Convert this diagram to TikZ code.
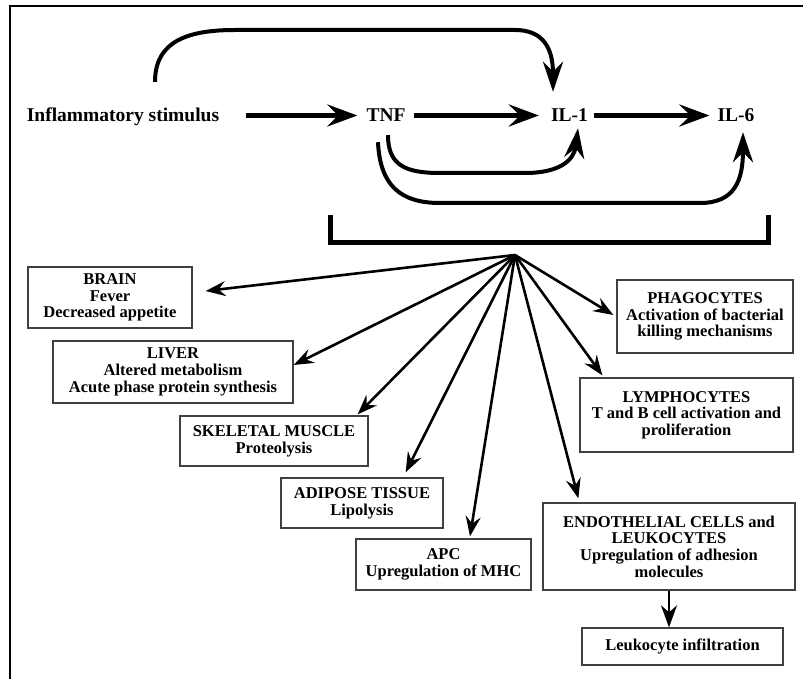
\documentclass[tikz,border=0pt]{standalone}
\usepackage{fontspec}
\setmainfont{Liberation Serif}
\usetikzlibrary{arrows.meta}

\begin{document}
\begin{tikzpicture}[x=1pt,y=-1pt,-]
    \tikzstyle{stage}=[font=\fontsize{19.5}{20}\selectfont\bfseries,inner sep=0pt,text height=13pt,text depth=0pt,anchor=base]
    \tikzstyle{organ}=[draw=black!75,line width=1.3pt,font=\fontsize{16.5}{16.7}\selectfont\bfseries,align=center,inner sep=0pt]
    \tikzstyle{bigarrow}=[line width=5pt,-{Stealth[length=30pt,width=22pt,inset=11pt]}]
    \tikzstyle{looparrow}=[line width=4pt,-{Stealth[length=30pt,width=20pt,inset=10pt]}]
    \tikzstyle{fanarrow}=[line width=2.6pt,-{Stealth[length=20pt,width=15pt,inset=7pt]}]

    \useasboundingbox (0,0) rectangle (803,679);
    \draw[line width=2pt] (10,679) -- (10,6) -- (803,6);

    \foreach \name/\x/\txt in {stim/123/Inflammatory stimulus, tnf/386/TNF, il1/569.5/IL-1, il6/736/IL-6}
        \node[stage] (\name) at (\x,122) {\txt};

    \draw[bigarrow,shorten <=27pt,shorten >=9pt] (stim.east) -- (tnf.west);
    \draw[bigarrow,shorten <=8pt,shorten >=12pt] (tnf.east) -- (il1.west);
    \draw[bigarrow,shorten <=6pt,shorten >=8pt] (il1.east) -- (il6.west);

    \draw[looparrow] ([xshift=32pt,yshift=27pt]stim.north) .. controls (155,40) and (190,30) .. (235,30)
        -- (515,30) .. controls (543,30) and (553,48) .. ([xshift=-16.5pt,yshift=17pt]il1.north);
    \draw[looparrow] ([xshift=2pt,yshift=-13pt]tnf.south) .. controls (388,165) and (405,173) .. (440,173)
        -- (525,173) .. controls (560,173) and (574,160) .. ([xshift=8.5pt,yshift=-6pt]il1.south);
    \draw[looparrow] ([xshift=-8pt,yshift=-20pt]tnf.south) .. controls (380,185) and (400,203) .. (440,203)
        -- (700,203) .. controls (735,203) and (743,180) .. ([xshift=7pt,yshift=-10pt]il6.south);

    \draw[line width=5pt] (330,215) -- (330,242) -- (768,242) -- (768,215);
    \coordinate (hub) at (515,255);

    \node[organ,minimum width=164pt,minimum height=61pt] (brain) at (110,297.5) {BRAIN\\Fever\\Decreased appetite};
    \node[organ,minimum width=240pt,minimum height=62pt] (liver) at (173,372) {LIVER\\Altered metabolism\\Acute phase protein synthesis};
    \node[organ,minimum width=188pt,minimum height=50pt] (muscle) at (274,441) {SKELETAL MUSCLE\\Proteolysis};
    \node[organ,minimum width=162pt,minimum height=50pt] (adipose) at (362,503) {ADIPOSE TISSUE\\Lipolysis};
    \node[organ,minimum width=175pt,minimum height=51pt] (apc) at (443.5,564.5) {APC\\Upregulation of MHC};
    \node[organ,minimum width=176pt,minimum height=73pt] (phago) at (705,316.5) {PHAGOCYTES\\Activation of bacterial\\killing mechanisms};
    \node[organ,minimum width=213pt,minimum height=74pt] (lympho) at (686.5,415) {LYMPHOCYTES\\T and B cell activation and\\proliferation};
    \node[organ,minimum width=252pt,minimum height=87pt] (endo) at (669,546.5) {ENDOTHELIAL CELLS and\\LEUKOCYTES\\Upregulation of adhesion\\molecules};
    \node[organ,minimum width=201pt,minimum height=37pt] (infil) at (682.5,646.5) {Leukocyte infiltration};

    \foreach \to/\dx/\dy in {brain.east/13/6.5, liver.east/0/7, muscle.north east/-11/1, adipose.north east/-38/5,
            apc.north/26.5/2, endo.north west/36/4, lympho.north west/23/2, phago.west/-3/1.5}
        \draw[fanarrow] (hub) -- ([xshift=\dx pt,yshift=\dy pt]\to);

    \draw[fanarrow,-{Stealth[length=22pt,width=16pt,inset=7pt]}] (endo.south) -- (endo.south |- infil.north);
\end{tikzpicture}
\end{document}
